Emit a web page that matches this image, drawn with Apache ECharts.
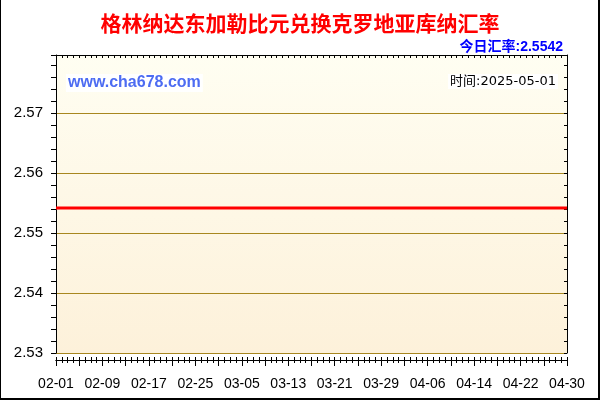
<!DOCTYPE html>
<html>
<head>
<meta charset="utf-8">
<script src="https://cdn.jsdelivr.net/npm/echarts@6/dist/echarts.min.js"></script>
<style>
  body { margin: 0; background: #fff; }
  #wrap { position: relative; width: 600px; height: 400px; }
  #chart { width: 600px; height: 400px; }
  #frame {
    position: absolute; left: 0; top: 0; width: 600px; height: 400px;
    box-sizing: border-box; border-left: 1px solid #000;
    border-right: 2px solid #000; border-bottom: 2px solid #000;
    pointer-events: none;
  }
</style>
</head>
<body>
<div id="wrap">
  <div id="chart"></div>
  <div id="frame"></div>
</div>
<script>
// Dates, Feb 1 to Apr 30 2025
const dates = [
  '02-01','02-02','02-03','02-04','02-05','02-06','02-07','02-08','02-09','02-10',
  '02-11','02-12','02-13','02-14','02-15','02-16','02-17','02-18','02-19','02-20',
  '02-21','02-22','02-23','02-24','02-25','02-26','02-27','02-28',
  '03-01','03-02','03-03','03-04','03-05','03-06','03-07','03-08','03-09','03-10',
  '03-11','03-12','03-13','03-14','03-15','03-16','03-17','03-18','03-19','03-20',
  '03-21','03-22','03-23','03-24','03-25','03-26','03-27','03-28','03-29','03-30','03-31',
  '04-01','04-02','04-03','04-04','04-05','04-06','04-07','04-08','04-09','04-10',
  '04-11','04-12','04-13','04-14','04-15','04-16','04-17','04-18','04-19','04-20',
  '04-21','04-22','04-23','04-24','04-25','04-26','04-27','04-28','04-29','04-30'
];

// Exchange rate values (flat line)
const rates = [
  2.5542,2.5542,2.5542,2.5542,2.5542,2.5542,2.5542,2.5542,2.5542,2.5542,
  2.5542,2.5542,2.5542,2.5542,2.5542,2.5542,2.5542,2.5542,2.5542,2.5542,
  2.5542,2.5542,2.5542,2.5542,2.5542,2.5542,2.5542,2.5542,
  2.5542,2.5542,2.5542,2.5542,2.5542,2.5542,2.5542,2.5542,2.5542,2.5542,
  2.5542,2.5542,2.5542,2.5542,2.5542,2.5542,2.5542,2.5542,2.5542,2.5542,
  2.5542,2.5542,2.5542,2.5542,2.5542,2.5542,2.5542,2.5542,2.5542,2.5542,2.5542,
  2.5542,2.5542,2.5542,2.5542,2.5542,2.5542,2.5542,2.5542,2.5542,2.5542,
  2.5542,2.5542,2.5542,2.5542,2.5542,2.5542,2.5542,2.5542,2.5542,2.5542,
  2.5542,2.5542,2.5542,2.5542,2.5542,2.5542,2.5542,2.5542,2.5542,2.5542
];

// Y axis range and label step
const yMin = 2.53;
const yMax = 2.5797;
const yStep = 0.01;

const titleText = '格林纳达东加勒比元兑换克罗地亚库纳汇率';
const siteText = 'www.cha678.com';
const dateText = '时间:2025-05-01';

const chart = echarts.init(document.getElementById('chart'));

const latinFont = 'Arial, "Liberation Sans", "Noto Sans CJK SC", sans-serif';

// x axes share the same bottom position, they only draw the crossing ticks
function bottomAxis(extra) {
  return Object.assign({
    type: 'category',
    data: dates,
    boundaryGap: false,
    position: 'bottom',
    offset: 7,
    axisLine: { show: true, onZero: false, lineStyle: { color: '#000', width: 1 } },
    axisLabel: { show: false },
    splitLine: { show: false }
  }, extra);
}

const options = {
  animation: false,
  title: [
    {
      text: titleText,
      left: 'center',
      top: 13,
      padding: 0,
      textStyle: { color: '#ff0000', fontSize: 21, fontWeight: 'bold', fontFamily: '"Noto Sans CJK SC", sans-serif' }
    },
    {
      text: '今日汇率:' + rates[rates.length - 1],
      right: 37,
      top: 40,
      padding: 0,
      textStyle: { color: '#0000ff', fontSize: 14, fontWeight: 'bold', fontFamily: latinFont }
    },
    {
      text: siteText,
      left: 66,
      top: 74,
      padding: [1, 2],
      backgroundColor: '#ffffff',
      textStyle: { color: '#4d6cf2', fontSize: 16, fontWeight: 'bold', fontFamily: latinFont }
    },
    {
      text: dateText,
      right: 42,
      top: 74,
      padding: [1, 2],
      backgroundColor: '#ffffff',
      textStyle: { color: '#000', fontSize: 13, fontWeight: 'normal', fontFamily: '"DejaVu Sans", "Noto Sans CJK SC", sans-serif' }
    }
  ],
  grid: {
    left: 56,
    right: 33,
    top: 55,
    bottom: 47,
    show: true,
    borderWidth: 0,
    backgroundColor: new echarts.graphic.LinearGradient(0, 0, 0, 1, [
      { offset: 0, color: '#fffef2' },
      { offset: 1, color: '#fdf1da' }
    ])
  },
  xAxis: [
    bottomAxis({
      axisTick: { show: true, interval: 0, length: 3, lineStyle: { color: '#000' } },
      axisLabel: {
        show: true, interval: 7, margin: 17, color: '#000',
        fontSize: 14, fontFamily: latinFont
      }
    }),
    bottomAxis({
      axisTick: { show: true, inside: true, interval: 0, length: 3, lineStyle: { color: '#000' } }
    }),
    bottomAxis({
      axisLine: { show: false, onZero: false },
      axisTick: { show: true, interval: 3, length: 6, lineStyle: { color: '#000' } }
    }),
    {
      type: 'category',
      data: dates,
      boundaryGap: false,
      position: 'top',
      axisLine: { show: true, onZero: false, lineStyle: { color: '#000' } },
      axisTick: { show: true, inside: true, interval: 0, length: 3, lineStyle: { color: '#000' } },
      axisLabel: { show: false },
      splitLine: { show: false }
    }
  ],
  yAxis: [
    {
      type: 'value',
      position: 'left',
      min: yMin,
      max: yMax,
      interval: yStep,
      axisLine: { show: true, lineStyle: { color: '#000' } },
      axisTick: { show: true, length: 5, lineStyle: { color: '#000' } },
      minorTick: { show: true, splitNumber: 5, length: 5, lineStyle: { color: '#000' } },
      splitLine: { show: true, lineStyle: { color: '#a8871f', width: 1 } },
      axisLabel: {
        margin: 13,
        color: '#000',
        fontSize: 15,
        fontFamily: latinFont,
        formatter: function (v) {
          const k = v / yStep;
          return Math.abs(k - Math.round(k)) < 1e-6 ? v.toFixed(2) : '';
        }
      }
    },
    {
      type: 'value',
      position: 'right',
      min: yMin,
      max: yMax,
      interval: yStep,
      axisLine: { show: true, lineStyle: { color: '#000' } },
      axisTick: { show: true, inside: true, length: 3, lineStyle: { color: '#000' } },
      minorTick: { show: true, splitNumber: 5, length: 3, lineStyle: { color: '#000' } },
      splitLine: { show: false },
      axisLabel: { show: false }
    }
  ],
  series: [
    {
      type: 'line',
      xAxisIndex: 0,
      yAxisIndex: 0,
      data: rates,
      showSymbol: false,
      lineStyle: { color: '#ff0000', width: 3 },
      z: 5
    }
  ]
};

chart.setOption(options);
</script>
</body>
</html>
